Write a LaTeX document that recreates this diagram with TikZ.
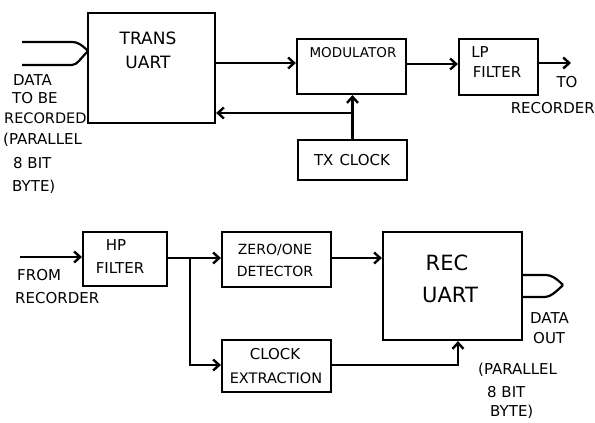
\documentclass[tikz,border=0pt]{standalone}
\usepackage{fontspec}
\setmainfont{DejaVu Sans}
\usetikzlibrary{arrows.meta}
\begin{document}
\begin{tikzpicture}[x=1pt,y=-1pt,
  box/.style={draw, line width=2.2pt, inner sep=0pt},
  lbl/.style={font=\fontsize{15}{17}\selectfont, inner sep=0pt},
  conn/.style={line width=2.4pt, -{Straight Barb[length=6pt,width=11pt]}},
  bus/.style={line width=2.2pt, line join=round}]
\useasboundingbox (0,0) rectangle (595,423);
% boxes
\node[box, minimum width=127pt, minimum height=110pt] (trans) at (151.5,68) {};
\node[box, minimum width=109pt, minimum height=55pt] (mod) at (351.5,66.5) {};
\node[box, minimum width=79pt, minimum height=56pt] (lp) at (498.5,67) {};
\node[box, minimum width=109pt, minimum height=40pt] (txclk) at (352.5,160) {};
\node[box, minimum width=84pt, minimum height=54pt] (hp) at (125,259) {};
\node[box, minimum width=109pt, minimum height=55pt] (zero) at (276.5,259.5) {};
\node[box, minimum width=109pt, minimum height=52pt] (clk) at (276.5,366) {};
\node[box, minimum width=139pt, minimum height=108pt] (rec) at (452.5,286) {};
% box texts
\node[lbl, font=\fontsize{17}{19}\selectfont] (t1) at (148,38) {TRANS};
\node[lbl, font=\fontsize{17}{19}\selectfont] (t2) at (148,62) {UART};
\node[lbl, font=\fontsize{13.5}{15}\selectfont] (t3) at (353,53) {MODULATOR};
\node[lbl] (t4) at (480,52) {LP};
\node[lbl] (t5) at (497,72) {FILTER};
\node[lbl] (t6) at (352,160) {TX\hspace{6pt}CLOCK};
\node[lbl] (t7) at (116,245) {HP};
\node[lbl] (t8) at (120,268) {FILTER};
\node[lbl, font=\fontsize{14}{16}\selectfont] (t9) at (275,250) {ZERO/ONE};
\node[lbl, font=\fontsize{14}{16}\selectfont] (t10) at (275,271) {DETECTOR};
\node[lbl] (t11) at (275,354) {CLOCK};
\node[lbl, font=\fontsize{14.5}{16}\selectfont] (t12) at (276,378) {EXTRACTION};
\node[lbl, font=\fontsize{21}{23}\selectfont] (t13) at (447,263) {REC};
\node[lbl, font=\fontsize{21}{23}\selectfont] (t14) at (450,295) {UART};
% free labels
\node[lbl, anchor=west] (d1) at (13,80) {DATA};
\node[lbl, anchor=west] (d2) at (12,98) {TO BE};
\node[lbl, anchor=west, font=\fontsize{14.5}{16}\selectfont] (d3) at (4,118) {RECORDED};
\node[lbl, anchor=west] (d4) at (3,140) {(PARALLEL};
\node[lbl, anchor=west] (d5) at (13,163) {8 BIT};
\node[lbl, anchor=west] (d6) at (12,187) {BYTE)};
\node[lbl] (o1) at (567,82) {TO};
\node[lbl, anchor=east] (o2) at (595,108) {RECORDER};
\node[lbl, anchor=west] (f1) at (17,275) {FROM};
\node[lbl, anchor=west] (f2) at (15,298) {RECORDER};
\node[lbl, anchor=west] (e1) at (530,318) {DATA};
\node[lbl, anchor=west] (e2) at (533,338) {OUT};
\node[lbl, anchor=west] (e3) at (478,370) {(PARALLEL};
\node[lbl, anchor=west] (e4) at (487,392) {8 BIT};
\node[lbl, anchor=west] (e5) at (490,412) {BYTE)};
% parallel input bus
\coordinate (inA) at (22,42);
\coordinate (inB) at (22,65);
\coordinate (inTip) at (88,51);
\draw[bus] (inA) -- (72,42) .. controls (77,42) and (81,44) .. (inTip);
\draw[bus] (inB) -- (72,65) .. controls (77,65) and (81,58) .. (inTip);
% parallel output bus
\coordinate (outTip) at (563,285);
\draw[bus] (rec.east |- 0,275) -- (546,275) .. controls (551,275) and (556,278) .. (outTip);
\draw[bus] (rec.east |- 0,297) -- (545,297) .. controls (550,297) and (556,292) .. (outTip);
% top connectors
\draw[conn] (trans.east |- 0,63) -- (mod.west |- 0,63);
\draw[conn] (mod.east |- 0,64) -- (lp.west |- 0,64);
\coordinate (toRec) at (571,63);
\draw[conn] (lp.east |- toRec) -- (toRec);
\coordinate (j) at (352,113);
\draw[conn] (txclk.north) -- (txclk.north |- mod.south);
\draw[conn] (j) -- (trans.east |- j);
% bottom connectors
\coordinate (fromRec) at (20,257);
\draw[conn] (fromRec) -- (hp.west |- fromRec);
\coordinate (br) at (190,258);
\draw[conn] (hp.east |- br) -- (zero.west |- br);
\draw[conn] (br) -- (190,365) -- (clk.west |- 0,365);
\draw[conn] (zero.east |- 0,258) -- (rec.west |- 0,258);
\draw[conn] (clk.east |- 0,365) -| (458,0 |- rec.south);
\end{tikzpicture}
\end{document}
